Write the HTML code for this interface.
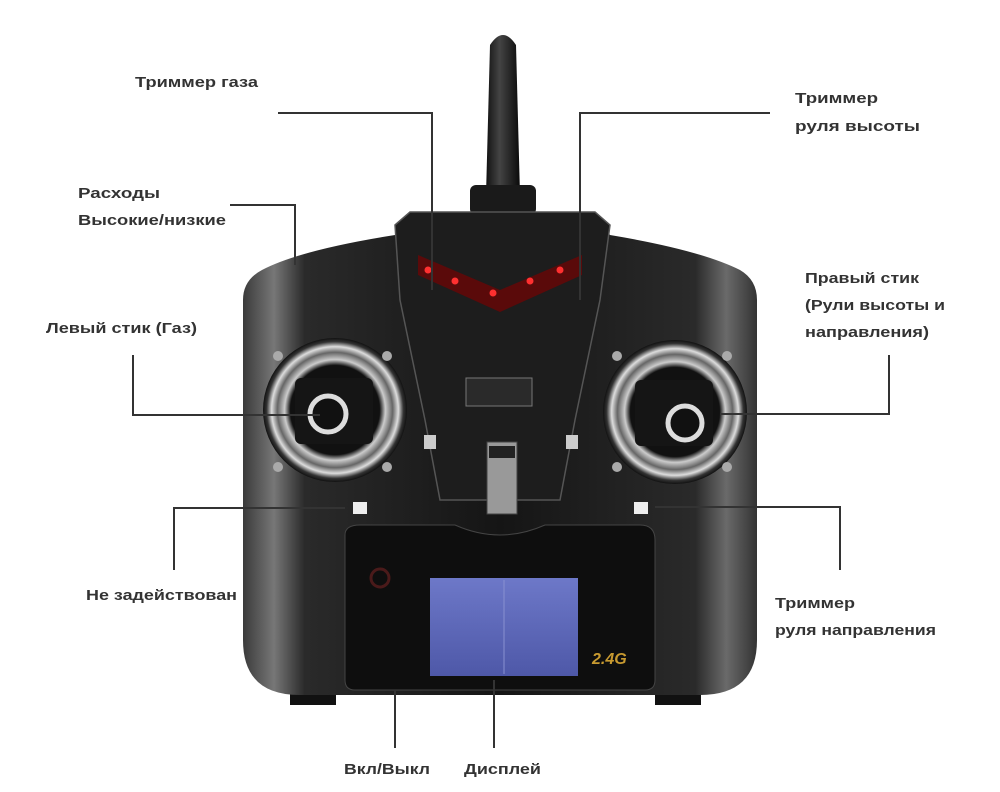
<!DOCTYPE html>
<html><head><meta charset="utf-8"><style>
html,body{margin:0;padding:0;background:#fff;}
svg{display:block}
text{font-family:"Liberation Sans","DejaVu Sans",sans-serif;font-size:15px;font-weight:bold;fill:#333;}
</style></head><body>
<svg width="1000" height="792" viewBox="0 0 1000 792" xmlns="http://www.w3.org/2000/svg">
<defs>
<linearGradient id="body" x1="0" x2="1" y1="0" y2="0">
<stop offset="0" stop-color="#3a3a3a"/><stop offset="0.06" stop-color="#777"/><stop offset="0.12" stop-color="#2a2a2a"/>
<stop offset="0.5" stop-color="#151515"/><stop offset="0.88" stop-color="#2a2a2a"/><stop offset="0.94" stop-color="#6a6a6a"/><stop offset="1" stop-color="#333"/>
</linearGradient>
<radialGradient id="ring" cx="0.5" cy="0.5" r="0.5">
<stop offset="0.62" stop-color="#111"/><stop offset="0.7" stop-color="#ccc"/><stop offset="0.8" stop-color="#666"/><stop offset="0.88" stop-color="#ddd"/><stop offset="0.95" stop-color="#333"/><stop offset="1" stop-color="#111"/>
</radialGradient>
<linearGradient id="lcd" x1="0" x2="0" y1="0" y2="1"><stop offset="0" stop-color="#6d78c8"/><stop offset="1" stop-color="#4e58a8"/></linearGradient>
<linearGradient id="ant" x1="0" x2="1"><stop offset="0" stop-color="#111"/><stop offset="0.4" stop-color="#444"/><stop offset="1" stop-color="#0a0a0a"/></linearGradient>
</defs>
<path d="M490 45 Q503 25 516 45 L520 195 L486 195 Z" fill="url(#ant)"/>
<rect x="470" y="185" width="66" height="30" rx="6" fill="#1a1a1a"/>
<rect x="290" y="685" width="46" height="20" fill="#111"/>
<rect x="655" y="685" width="46" height="20" fill="#111"/>
<path d="M262 270 Q300 250 395 235 L410 212 L595 212 L610 235 Q700 250 740 270 Q757 280 757 300 L757 640 Q757 695 700 695 L300 695 Q243 695 243 640 L243 300 Q243 280 262 270 Z" fill="url(#body)"/>
<path d="M395 225 L410 212 L595 212 L610 225 L600 300 L575 420 L560 500 L440 500 L425 420 L400 300 Z" fill="#1d1d1d" stroke="#555" stroke-width="1.5"/>
<path d="M418 255 L500 290 L582 255 L582 275 L500 312 L418 275 Z" fill="#5a0a0a"/>
<g fill="#ff3030">
<circle cx="428" cy="270" r="3.5"/><circle cx="455" cy="281" r="3.5"/><circle cx="493" cy="293" r="3.5"/><circle cx="530" cy="281" r="3.5"/><circle cx="560" cy="270" r="3.5"/>
</g>
<rect x="466" y="378" width="66" height="28" fill="#2a2a2a" stroke="#777"/>
<rect x="487" y="442" width="30" height="72" fill="#999" stroke="#444"/>
<rect x="489" y="446" width="26" height="12" fill="#222"/>
<g>
<circle cx="335" cy="410" r="72" fill="url(#ring)"/>
<rect x="295" y="378" width="78" height="66" rx="6" fill="#151515"/>
<circle cx="328" cy="414" r="18" fill="#111" stroke="#ddd" stroke-width="5"/>
<circle cx="675" cy="412" r="72" fill="url(#ring)"/>
<rect x="635" y="380" width="78" height="66" rx="6" fill="#151515"/>
<circle cx="685" cy="423" r="17" fill="#111" stroke="#ddd" stroke-width="5"/>
</g>
<g fill="#aaa"><circle cx="278" cy="356" r="5"/><circle cx="387" cy="356" r="5"/><circle cx="278" cy="467" r="5"/><circle cx="387" cy="467" r="5"/>
<circle cx="617" cy="356" r="5"/><circle cx="727" cy="356" r="5"/><circle cx="617" cy="467" r="5"/><circle cx="727" cy="467" r="5"/></g>
<rect x="424" y="435" width="12" height="14" fill="#ccc"/><rect x="566" y="435" width="12" height="14" fill="#ccc"/>
<rect x="353" y="502" width="14" height="12" fill="#eee"/><rect x="634" y="502" width="14" height="12" fill="#eee"/>
<path d="M345 535 Q345 525 360 525 L455 525 Q500 545 545 525 L640 525 Q655 525 655 540 L655 680 Q655 690 645 690 L355 690 Q345 690 345 680 Z" fill="#0e0e0e" stroke="#444"/>
<rect x="430" y="578" width="148" height="98" fill="url(#lcd)"/>
<line x1="504" y1="580" x2="504" y2="674" stroke="#8890d0"/>
<circle cx="380" cy="578" r="9" fill="none" stroke="#4a1a1a" stroke-width="3"/>
<text x="592" y="664" style="fill:#c89a30;font-size:16px;font-style:italic">2.4G</text>
<g stroke="#333" stroke-width="2" fill="none">
<polyline points="278,113 432,113 432,290"/>
<polyline points="770,113 580,113 580,300"/>
<polyline points="230,205 295,205 295,265"/>
<polyline points="133,355 133,415 320,415"/>
<polyline points="174,570 174,508 345,508"/>
<polyline points="889,355 889,414 720,414"/>
<polyline points="655,507 840,507 840,570"/>
<line x1="395" y1="690" x2="395" y2="748"/>
<line x1="494" y1="680" x2="494" y2="748"/>
</g>
<text x="135" y="87" textLength="123" lengthAdjust="spacingAndGlyphs">Триммер газа</text>
<text x="795" y="103" textLength="83" lengthAdjust="spacingAndGlyphs">Триммер</text>
<text x="795" y="131" textLength="125" lengthAdjust="spacingAndGlyphs">руля высоты</text>
<text x="78" y="198" textLength="82" lengthAdjust="spacingAndGlyphs">Расходы</text>
<text x="78" y="225" textLength="148" lengthAdjust="spacingAndGlyphs">Высокие/низкие</text>
<text x="46" y="333" textLength="151" lengthAdjust="spacingAndGlyphs">Левый стик (Газ)</text>
<text x="805" y="283" textLength="114" lengthAdjust="spacingAndGlyphs">Правый стик</text>
<text x="805" y="310" textLength="140" lengthAdjust="spacingAndGlyphs">(Рули высоты и</text>
<text x="805" y="337" textLength="124" lengthAdjust="spacingAndGlyphs">направления)</text>
<text x="86" y="600" textLength="151" lengthAdjust="spacingAndGlyphs">Не задействован</text>
<text x="775" y="608" textLength="80" lengthAdjust="spacingAndGlyphs">Триммер</text>
<text x="775" y="635" textLength="161" lengthAdjust="spacingAndGlyphs">руля направления</text>
<text x="344" y="774" textLength="86" lengthAdjust="spacingAndGlyphs">Вкл/Выкл</text>
<text x="464" y="774" textLength="77" lengthAdjust="spacingAndGlyphs">Дисплей</text>
</svg>
</body></html>
